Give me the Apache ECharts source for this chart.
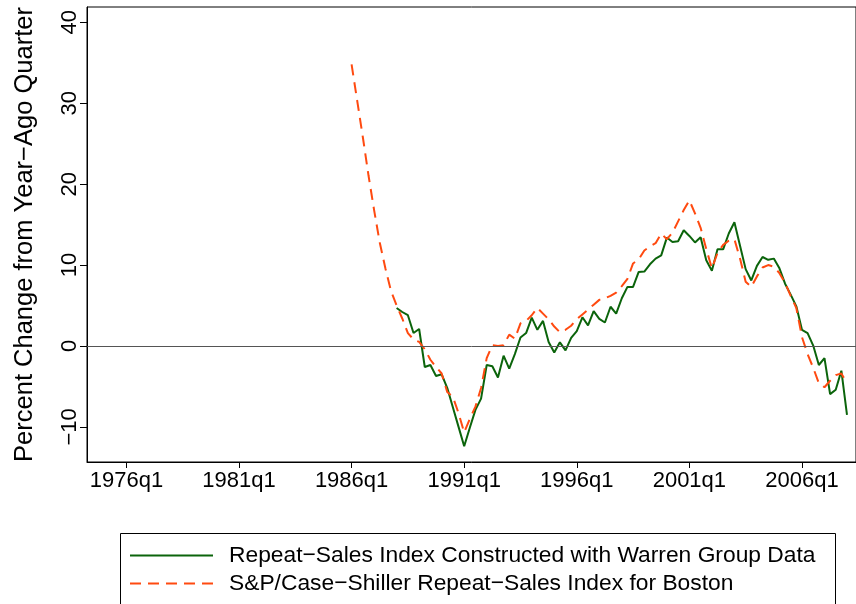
<!DOCTYPE html>
<html>
<head>
<meta charset="utf-8">
<script src="https://cdn.jsdelivr.net/npm/echarts@6/dist/echarts.min.js"></script>
<style>
  html, body { margin: 0; padding: 0; background: #fff; }
  #chart { width: 856px; height: 604px; }
</style>
</head>
<body>
<div id="chart"></div>
<script>
// quarters are counted Stata-style: 0 = 1960q1
var tickQuarters = [64, 84, 104, 124, 144, 164, 184];
var tickLabels = ['1976q1', '1981q1', '1986q1', '1991q1', '1996q1', '2001q1', '2006q1'];
var yTicks = [-10, 0, 10, 20, 30, 40];

// Repeat-Sales Index, Warren Group data: 1988q1 .. 2008q1
var warrenStart = 112;
var warrenValues = [
  4.7, 4.2, 3.8, 1.6, 2.1, -2.6, -2.35, -3.7, -3.5, -5.2,
  -7.6, -10.0, -12.4, -10.1, -7.9, -6.5, -2.35, -2.5, -3.9, -1.2,
  -2.8, -1.0, 1.05, 1.6, 3.5, 2.0, 3.1, 0.5, -0.8, 0.45,
  -0.55, 1.0, 1.85, 3.55, 2.55, 4.3, 3.35, 2.9, 4.85, 4.0,
  5.9, 7.3, 7.3, 9.15, 9.2, 10.1, 10.8, 11.2, 13.4, 12.85,
  12.95, 14.3, 13.6, 12.8, 13.45, 10.6, 9.3, 11.95, 11.95, 13.9,
  15.3, 12.4, 9.5, 8.1, 9.9, 11.0, 10.65, 10.8, 9.6, 7.7,
  6.35, 4.9, 2.0, 1.6, 0.05, -2.35, -1.5, -5.95, -5.4, -3.05,
  -8.5
];

// S&P/Case-Shiller Boston: 1986q1 .. 2008q1
var caseShillerStart = 104;
var caseShillerValues = [
  34.8, 30.3, 25.8, 21.1, 16.8, 12.8, 9.6, 6.8, 5.0, 3.4,
  1.6, 0.8, 0.5, -0.4, -1.7, -2.6, -3.4, -5.7, -6.3, -8.3,
  -10.7, -9.0, -7.5, -5.2, -1.5, 0.1, 0.0, 0.1, 1.4, 0.9,
  2.8, 3.1, 3.8, 4.7, 4.0, 3.3, 2.4, 1.7, 2.0, 2.5,
  3.3, 3.9, 4.5, 5.1, 5.7, 5.9, 6.2, 6.6, 7.4, 8.3,
  10.2, 10.7, 11.8, 12.3, 12.7, 13.9, 13.2, 14.0, 15.4, 16.8,
  18.0, 16.4, 14.6, 12.0, 9.6, 11.5, 12.5, 13.0, 13.2, 10.8,
  7.95, 7.3, 8.6, 9.7, 10.0, 9.8, 9.0, 7.8, 6.2, 4.7,
  1.1, -1.0, -2.7, -4.6, -5.1, -4.3, -3.6, -3.4, -4.6
];

var seriesNames = [
  'Repeat\u2212Sales Index Constructed with Warren Group Data',
  'S&P/Case\u2212Shiller Repeat\u2212Sales Index for Boston'
];

function toPairs(start, values) {
  var out = [];
  for (var i = 0; i < values.length; i++) {
    out.push([start + i, values[i]]);
  }
  return out;
}

var font = "'Liberation Sans', Arial, Helvetica, sans-serif";
var chart = echarts.init(document.getElementById('chart'));

var option = {
  animation: false,
  backgroundColor: '#fff',
  textStyle: { fontFamily: font },
  grid: {
    left: 87,
    right: -4,
    top: 7,
    bottom: 142,
    show: true,
    borderColor: '#000',
    borderWidth: 1
  },
  // legend frame; its lower edge runs off the bottom of the picture
  graphic: [{
    type: 'rect',
    silent: true,
    shape: { x: 120.5, y: 533.5, width: 715, height: 120 },
    style: { fill: 'none', stroke: '#000', lineWidth: 1 }
  }],
  xAxis: {
    type: 'value',
    min: 57.0,
    max: 193.6,
    splitLine: { show: false },
    axisLine: { onZero: false, lineStyle: { color: '#000', width: 1 } },
    axisTick: { customValues: tickQuarters, length: 6, lineStyle: { color: '#000' } },
    axisLabel: {
      customValues: tickQuarters,
      margin: 8,
      color: '#000',
      fontSize: 22,
      fontFamily: font,
      formatter: function (v) {
        var i = tickQuarters.indexOf(Math.round(v));
        return i >= 0 ? tickLabels[i] : '';
      }
    }
  },
  yAxis: {
    type: 'value',
    min: -14.34,
    max: 41.9,
    name: 'Percent Change from Year\u2212Ago Quarter',
    nameLocation: 'middle',
    nameRotate: 90,
    nameGap: 49,
    nameTextStyle: { color: '#000', fontSize: 25.5, fontFamily: font },
    splitLine: { show: false },
    axisLine: { show: true, lineStyle: { color: '#000', width: 1 } },
    axisTick: { show: true, customValues: yTicks, length: 7, lineStyle: { color: '#000' } },
    axisLabel: {
      customValues: yTicks,
      rotate: 90,
      margin: 6,
      color: '#000',
      fontSize: 22,
      fontFamily: font,
      formatter: function (v) { return String(v).replace('-', '\u2212'); }
    }
  },
  legend: {
    orient: 'vertical',
    left: 120,
    top: 533,
    padding: [11, 0, 0, 9],
    itemWidth: 83,
    itemHeight: 14,
    itemGap: 5,
    itemStyle: { opacity: 0 },
    textStyle: { color: '#000', fontSize: 22.8, fontFamily: font, lineHeight: 22, padding: [0, 0, 0, 11] },
    data: seriesNames
  },
  series: [
    {
      name: seriesNames[0],
      type: 'line',
      symbol: 'none',
      z: 3,
      lineStyle: { color: '#0b640b', width: 2 },
      itemStyle: { color: '#0b640b' },
      data: toPairs(warrenStart, warrenValues),
      markLine: {
        silent: true,
        symbol: 'none',
        label: { show: false },
        lineStyle: { color: '#555', width: 1, type: 'solid' },
        data: [{ yAxis: 0 }]
      }
    },
    {
      name: seriesNames[1],
      type: 'line',
      symbol: 'none',
      z: 4,
      lineStyle: { color: '#ff4a10', width: 2, type: [11, 7] },
      itemStyle: { color: '#ff4a10' },
      data: toPairs(caseShillerStart, caseShillerValues)
    }
  ]
};

chart.setOption(option);
</script>
</body>
</html>
